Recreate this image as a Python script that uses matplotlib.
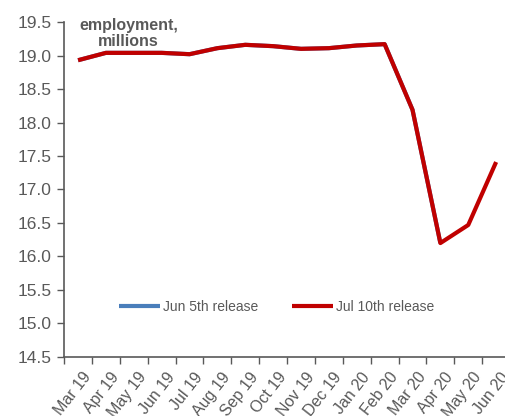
import numpy as np
import matplotlib.pyplot as plt

plt.rcParams['font.family'] = ['Liberation Sans', 'DejaVu Sans']

# --- data ---
months = ['Mar 19', 'Apr 19', 'May 19', 'Jun 19', 'Jul 19', 'Aug 19', 'Sep 19', 'Oct 19',
          'Nov 19', 'Dec 19', 'Jan 20', 'Feb 20', 'Mar 20', 'Apr 20', 'May 20', 'Jun 20']
jun5 = [18.93, 19.04, 19.04, 19.04, 19.02, 19.11, 19.16, 19.14,
        19.10, 19.11, 19.15, 19.17, 18.19, 16.20]
jul10 = [18.93, 19.04, 19.04, 19.04, 19.02, 19.11, 19.16, 19.14,
         19.10, 19.11, 19.15, 19.17, 18.19, 16.20, 16.47, 17.41]

grey = '#595959'
fig = plt.figure(figsize=(5.05, 4.16), dpi=100, facecolor='white')
ax = fig.add_axes([0.127, 0.142, 0.883, 0.805])

x = np.arange(len(months))
ax.plot(x[:len(jun5)], jun5, color='#4A7EBB', linewidth=3, solid_capstyle='butt',
        label='Jun 5th release')
ax.plot(x, jul10, color='#C00000', linewidth=3, solid_capstyle='butt',
        label='Jul 10th release')

ax.set_xlim(-0.5, len(months) - 0.5)
ax.set_ylim(14.5, 19.5)
ax.set_yticks(np.arange(14.5, 19.51, 0.5))
ax.set_yticklabels([f'{v:.1f}' for v in np.arange(14.5, 19.51, 0.5)])

# category labels centred, tick marks on boundaries
ax.set_xticks(x + 0.15)
ax.set_xticklabels(months, rotation=52, ha='right', va='top', rotation_mode='anchor')
ax.set_xticks(np.arange(-0.5, len(months)), minor=True)
ax.tick_params(axis='x', which='major', length=0, pad=9, labelsize=11.5, colors=grey)
ax.tick_params(axis='x', which='minor', length=5, width=1, color=grey, direction='out')
ax.tick_params(axis='y', length=5, width=1, color=grey, labelcolor=grey, labelsize=12.5, pad=4)

for s in ['top', 'right']:
    ax.spines[s].set_visible(False)
for s in ['left', 'bottom']:
    ax.spines[s].set_color(grey)
    ax.spines[s].set_linewidth(1.2)

ax.text(0.144, 0.965, 'employment,\nmillions', transform=ax.transAxes, ha='center', va='center',
        fontsize=11.5, fontweight='bold', color=grey, linespacing=1.05)

ax.legend(loc='center', bbox_to_anchor=(0.476, 0.149), ncol=2, frameon=False,
          fontsize=10, handlelength=3.0, handletextpad=0.2, columnspacing=2.4,
          labelcolor=grey)

plt.savefig('out.png', dpi=100)
